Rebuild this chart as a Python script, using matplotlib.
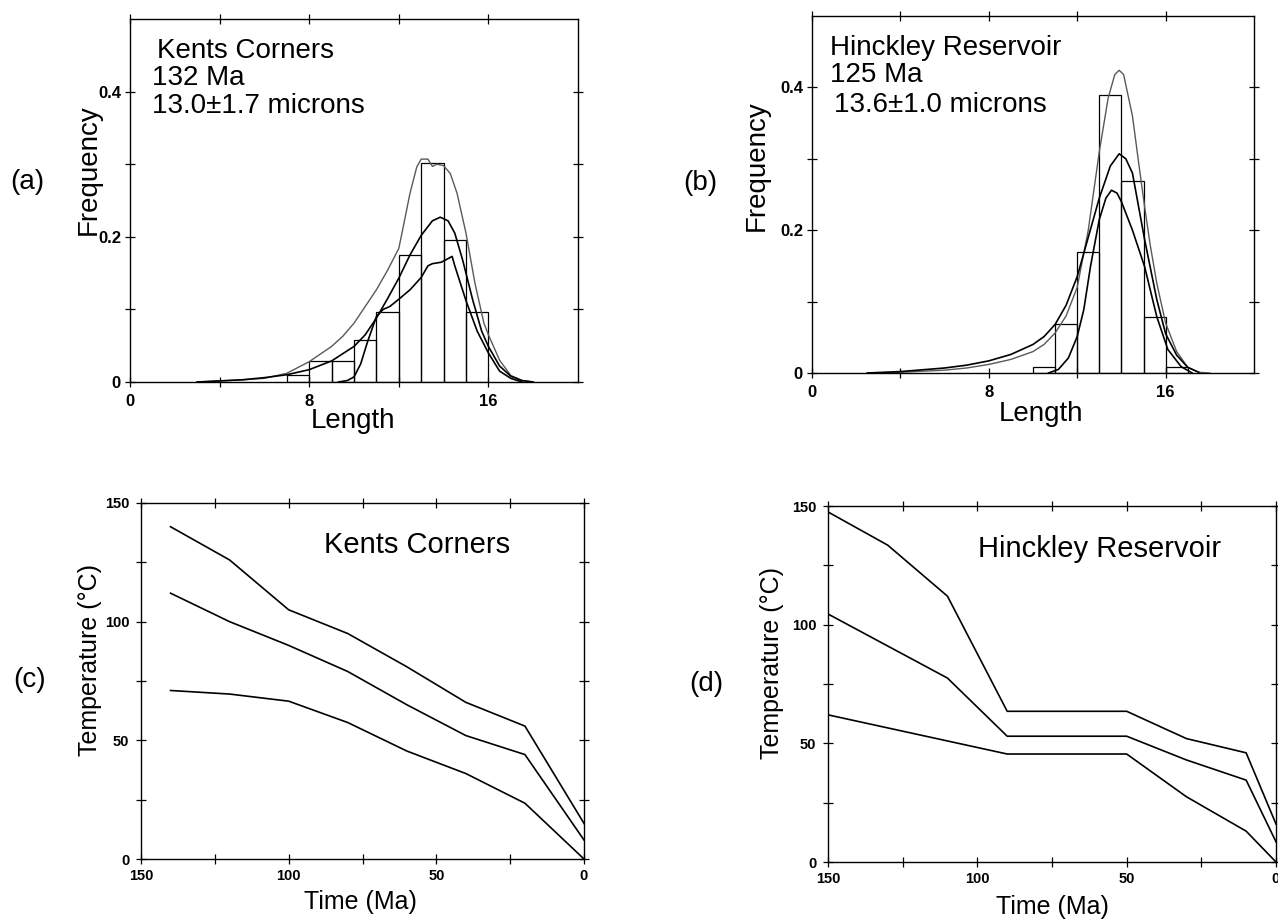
import matplotlib
matplotlib.use("Agg")
import matplotlib.pyplot as plt

plt.rcParams["font.family"] = ["Liberation Sans", "DejaVu Sans"]

# ---- (a) Kents Corners track lengths ----
bins_a = [7, 8, 9, 10, 11, 12, 13, 14, 15]
freq_a = [0.009, 0.029, 0.029, 0.058, 0.097, 0.175, 0.302, 0.195, 0.096]

c1a_x = [3, 5, 6, 7, 8, 9, 9.5, 10, 10.5, 11, 11.5, 12, 12.2, 12.5, 12.8, 13.0, 13.3, 13.5,
         13.7, 14.0, 14.3, 14.6, 15.0, 15.4, 15.8, 16.0, 16.5, 17.0, 17.5, 18]
c1a_y = [0, 0.003, 0.005, 0.012, 0.028, 0.049, 0.063, 0.081, 0.104, 0.127, 0.154, 0.184, 0.214,
         0.26, 0.296, 0.307, 0.307, 0.297, 0.30, 0.298, 0.287, 0.26, 0.205, 0.136, 0.081,
         0.065, 0.03, 0.009, 0.002, 0]
c2a_x = [3, 5, 6, 7, 8, 9, 10, 10.5, 11, 11.5, 12, 12.5, 13, 13.5, 13.85, 14.2, 14.5, 14.85,
         15.3, 15.7, 16, 16.5, 17, 17.5, 18]
c2a_y = [0, 0.003, 0.006, 0.01, 0.017, 0.029, 0.049, 0.065, 0.088, 0.115, 0.143, 0.175, 0.202,
         0.222, 0.227, 0.222, 0.205, 0.168, 0.113, 0.07, 0.049, 0.022, 0.008, 0.002, 0]
c3a_x = [9.3, 9.7, 10, 10.3, 10.6, 11, 11.3, 11.6, 12, 12.5, 13, 13.3, 13.5, 13.9, 14.2, 14.38,
         14.5, 15.0, 15.5, 16.0, 16.5, 17.0, 17.5]
c3a_y = [0, 0.002, 0.007, 0.025, 0.055, 0.09, 0.1, 0.104, 0.114, 0.127, 0.144, 0.16, 0.163,
         0.165, 0.17, 0.173, 0.16, 0.112, 0.07, 0.04, 0.015, 0.005, 0]

# ---- (b) Hinckley Reservoir track lengths ----
bins_b = [10, 11, 12, 13, 14, 15, 16]
freq_b = [0.009, 0.069, 0.169, 0.39, 0.269, 0.079, 0.009]

cAb_x = [2.5, 4, 6, 7, 8, 9, 10, 10.5, 11, 11.5, 12, 12.5, 13.0, 13.4, 13.7, 13.9, 14.1, 14.5,
         14.8, 15.05, 15.3, 15.6, 16, 16.5, 17, 17.5, 18]
cAb_y = [0, 0.001, 0.004, 0.007, 0.012, 0.019, 0.03, 0.04, 0.056, 0.08, 0.12, 0.2, 0.31, 0.385,
         0.418, 0.424, 0.418, 0.36, 0.29, 0.233, 0.18, 0.126, 0.07, 0.03, 0.008, 0.001, 0]
cBb_x = [2.5, 4, 6, 7, 8, 9, 10, 10.5, 11, 11.5, 12, 12.5, 13, 13.5, 13.9, 14.2, 14.5, 15.05,
         15.6, 16, 16.5, 17, 17.5]
cBb_y = [0, 0.002, 0.007, 0.011, 0.017, 0.026, 0.04, 0.051, 0.068, 0.095, 0.135, 0.19, 0.245,
         0.29, 0.307, 0.3, 0.28, 0.187, 0.103, 0.055, 0.025, 0.008, 0.001]
cCb_x = [10.7, 11.15, 11.6, 12.0, 12.3, 12.6, 13.0, 13.3, 13.55, 13.8, 14.0, 14.5, 15.05, 15.6,
         16.1, 16.7, 17.2]
cCb_y = [0, 0.005, 0.021, 0.051, 0.089, 0.149, 0.215, 0.245, 0.256, 0.252, 0.24, 0.2, 0.149,
         0.079, 0.033, 0.009, 0]

# ---- (c) Kents Corners thermal histories ----
time_c = [140, 120, 100, 80, 60, 40, 20, 0]
upper_c = [140, 126, 105, 95, 81, 66, 56, 15]
mid_c = [112, 100, 90, 79, 65, 52, 44, 8]
lower_c = [71, 69.5, 66.5, 57.5, 45.5, 36, 23.5, 0]

# ---- (d) Hinckley Reservoir thermal histories ----
time_d = [150, 130, 110, 90, 50, 30, 10, 0]
upper_d = [147.5, 133.5, 112, 63.5, 63.5, 52, 46, 16]
mid_d = [104.5, 91, 77.5, 53, 53, 43, 34.5, 8.5]
lower_d = [62, 56.5, 51, 45.5, 45.5, 27.5, 13, 0]

W, H = 1278, 922
fig = plt.figure(figsize=(W / 100, H / 100), dpi=100)


def rect(left, top, right, bottom):
    return [left / W, 1 - bottom / H, (right - left) / W, (bottom - top) / H]


def style_axes(ax, tick_size):
    for s in ax.spines.values():
        s.set_linewidth(1.0)
    ax.tick_params(which="both", direction="inout", length=7, width=0.9,
                   top=True, right=True, labelsize=tick_size)
    for lab in ax.get_xticklabels() + ax.get_yticklabels():
        lab.set_fontweight("bold")


def hist_panel(ax, bins, freq, curves, lines, label_pos):
    ax.bar(bins, freq, width=1, align="edge", fill=False, edgecolor="black", linewidth=0.9)
    for (x, y), (col, lw) in zip(curves, [("0.35", 1.0), ("black", 1.2), ("black", 1.2)]):
        ax.plot(x, y, color=col, linewidth=lw)
    ax.set_xlim(0, 20)
    ax.set_ylim(0, 0.5)
    ax.set_xticks([0, 8, 16])
    ax.set_xticks([4, 12], minor=True)
    ax.set_yticks([0, 0.2, 0.4])
    ax.set_yticklabels(["0", "0.2", "0.4"])
    ax.set_yticks([0.1, 0.3], minor=True)
    style_axes(ax, 12)
    ax.tick_params(axis="x", pad=5)
    ax.tick_params(axis="y", pad=3)
    ax.set_xlabel("Length", fontsize=20, va="center")
    ax.set_ylabel("Frequency", fontsize=20, va="center")
    ax.xaxis.set_label_coords(*label_pos[0])
    ax.yaxis.set_label_coords(*label_pos[1])
    for (txt, x, y) in lines:
        ax.text(x, y, txt, transform=ax.transAxes, fontsize=20, va="baseline", ha="left")


def temp_panel(ax, t, series, title, title_pos, label_pos):
    for s in series:
        ax.plot(t, s, color="black", linewidth=1.2)
    ax.set_xlim(150, 0)
    ax.set_ylim(0, 150)
    ax.set_xticks([150, 100, 50, 0])
    ax.set_xticks([125, 75, 25], minor=True)
    ax.set_yticks([0, 50, 100, 150])
    ax.set_yticks([25, 75, 125], minor=True)
    style_axes(ax, 10.5)
    ax.tick_params(axis="x", pad=4)
    ax.tick_params(axis="y", pad=5)
    ax.set_xlabel("Time (Ma)", fontsize=18, va="center")
    ax.set_ylabel("Temperature (°C)", fontsize=18, va="center")
    ax.xaxis.set_label_coords(*label_pos[0])
    ax.yaxis.set_label_coords(*label_pos[1])
    ax.text(title_pos[0], title_pos[1], title, transform=ax.transAxes, fontsize=21,
            ha="left", va="center")


ax_a = fig.add_axes(rect(130, 19, 578, 382))
hist_panel(ax_a, bins_a, freq_a, [(c1a_x, c1a_y), (c2a_x, c2a_y), (c3a_x, c3a_y)],
           [("Kents Corners", 0.060, 0.893), ("132 Ma", 0.049, 0.818),
            ("13.0±1.7 microns", 0.049, 0.741)],
           [(0.497, -0.107), (-0.092, 0.584)])

ax_b = fig.add_axes(rect(812, 16, 1254, 373))
hist_panel(ax_b, bins_b, freq_b, [(cAb_x, cAb_y), (cBb_x, cBb_y), (cCb_x, cCb_y)],
           [("Hinckley Reservoir", 0.041, 0.891), ("125 Ma", 0.041, 0.815),
            ("13.6±1.0 microns", 0.050, 0.731)],
           [(0.518, -0.115), (-0.124, 0.58)])

ax_c = fig.add_axes(rect(141, 503, 584, 859))
temp_panel(ax_c, time_c, [upper_c, mid_c, lower_c], "Kents Corners", (0.413, 0.883),
           [(0.495, -0.12), (-0.115, 0.56)])

ax_d = fig.add_axes(rect(828, 506, 1276, 862))
temp_panel(ax_d, time_d, [upper_d, mid_d, lower_d], "Hinckley Reservoir", (0.335, 0.880),
           [(0.5, -0.125), (-0.125, 0.56)])

for txt, x, y in [("(a)", 27, 182), ("(b)", 700, 183), ("(c)", 30, 680), ("(d)", 706, 684)]:
    fig.text(x / W, 1 - y / H, txt, fontsize=20, ha="center", va="center")

fig.savefig("out.png", dpi=100)
